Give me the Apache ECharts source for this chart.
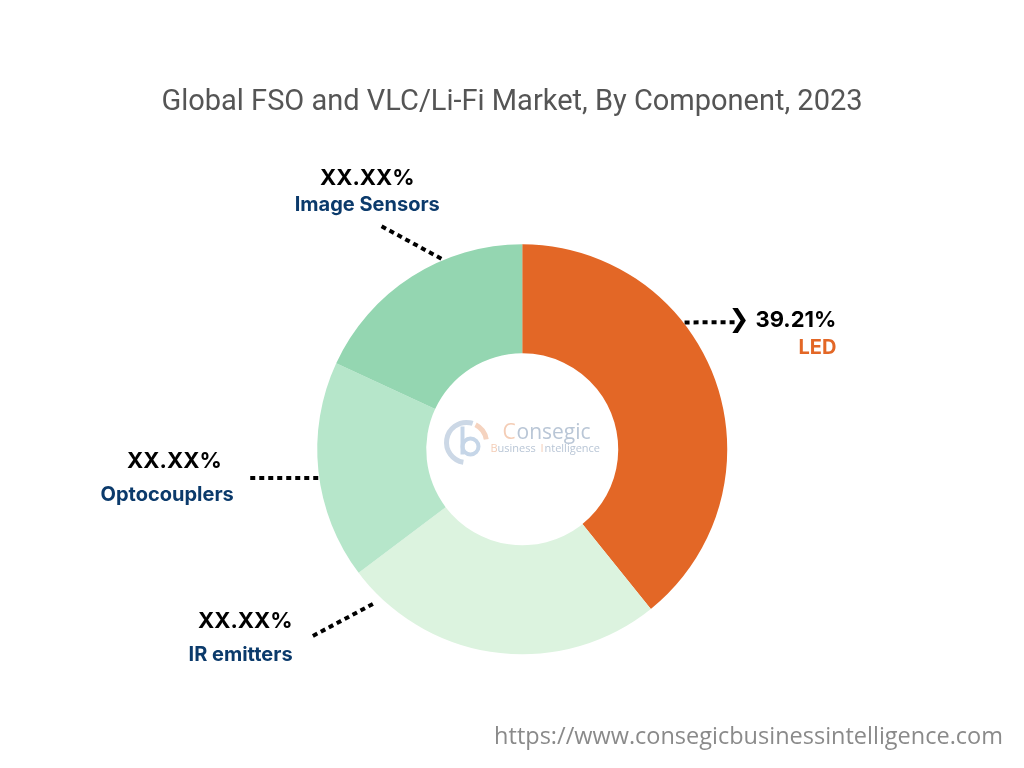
<!DOCTYPE html>
<html>
<head>
<meta charset="utf-8">
<title>Global FSO and VLC/Li-Fi Market, By Component, 2023</title>
<script src="https://cdn.jsdelivr.net/npm/echarts@6/dist/echarts.min.js"></script>
<style>
    html, body { margin: 0; padding: 0; background: #fff; }
    #main { width: 1024px; height: 768px; }
</style>
</head>
<body>
<div id="main"></div>
<script>
// slices, clockwise from 12 o'clock
var components = ['LED', 'IR emitters', 'Optocouplers', 'Image Sensors'];
var shares = [39.21, 25.5, 17.2, 18.1];
var shareLabels = ['39.21%', 'XX.XX%', 'XX.XX%', 'XX.XX%'];
var colors = ['#e36726', '#dcf3df', '#b6e6ca', '#94d6b1'];
var nameColors = ['#e36726', '#0b3a6b', '#0b3a6b', '#0b3a6b'];

// leader line: start/end as [angle clockwise from top, radius]
// label: side it sits on relative to the line end
var leaders = {
    'LED':           {from: [52, 206],  to: [59.3, 249],  align: 'right', dx: 100, dy: 12, gap: 27, vpad: 0},
    'IR emitters':   {from: [224, 215], to: [228.4, 283], align: 'right', dx: -18, dy: 1,  gap: 33, vpad: 0},
    'Optocouplers':  {from: [262, 206], to: [264, 275],   align: 'right', dx: -15, dy: 0,  gap: 33, vpad: 12},
    'Image Sensors': {from: [337, 207], to: [327.6, 265], align: 'center', dx: -13, dy: -34, gap: 27, vpad: 0}
};

var CENTER = ['51%', '58.5%'];
var RADIUS = [96, 205];

var myChart = echarts.init(document.getElementById('main'));

function polar(cx, cy, p) {
    var a = p[0] * Math.PI / 180;
    return [cx + p[1] * Math.sin(a), cy - p[1] * Math.cos(a)];
}

var richStyles = {
    arrow: {fontFamily: 'DejaVu Sans', fontWeight: 'bold', fontSize: 25, color: '#000', padding: [0, 6, 0, 0]}
};

var pieData = components.map(function (name, i) {
    var l = leaders[name];
    richStyles['v' + i] = {fontFamily: 'Inter', fontWeight: 'bold', fontSize: 22, color: '#000',
        lineHeight: l.gap, padding: [0, l.vpad, 0, 0]};
    richStyles['n' + i] = {fontFamily: 'Inter', fontWeight: 'bold', fontSize: 20, color: nameColors[i],
        lineHeight: l.gap};
    return {
        name: name,
        value: shares[i],
        itemStyle: {color: colors[i]},
        label: {
            formatter: (i === 0 ? '{arrow|❯}' : '') + '{v' + i + '|' + shareLabels[i] + '}\n{n' + i + '|' + name + '}',
            align: l.align
        }
    };
});

var option = {
    backgroundColor: '#fff',
    title: {
        text: 'Global FSO and VLC/Li-Fi Market, By Component, 2023',
        left: 'center',
        top: 83,
        textStyle: {fontFamily: 'Roboto', fontWeight: 'normal', fontSize: 29, color: '#555'}
    },
    graphic: [
        {
            type: 'text', right: 21, top: 725,
            style: {text: 'https://www.consegicbusinessintelligence.com', font: '23.5px "Open Sans"', fill: '#8a8a8a'}
        },
        {
            type: 'group', left: 444, top: 420,
            children: [
                {type: 'arc', shape: {cx: 24, cy: 28, r: 20, startAngle: Math.PI * 0.55, endAngle: Math.PI * 1.6},
                    style: {stroke: '#ccd8e6', lineWidth: 5, fill: null}},
                {type: 'arc', shape: {cx: 24, cy: 28, r: 20, startAngle: Math.PI * 1.65, endAngle: Math.PI * 1.95},
                    style: {stroke: '#f5d3bf', lineWidth: 5, fill: null}},
                {type: 'circle', shape: {cx: 28, cy: 32, r: 8}, style: {stroke: '#c6d6e8', lineWidth: 4, fill: null}},
                {type: 'line', shape: {x1: 20, y1: 12, x2: 20, y2: 40}, style: {stroke: '#c6d6e8', lineWidth: 4}},
                {type: 'text', x: 60, y: 8, style: {text: 'C', font: '21px "Open Sans"', fill: '#f4cdb6'}},
                {type: 'text', x: 74, y: 8, style: {text: 'onsegic', font: '21px "Open Sans"', fill: '#b9c6d6'}},
                {type: 'text', x: 48, y: 29, style: {text: 'B', font: '11px "Open Sans"', fill: '#f4cdb6'}},
                {type: 'text', x: 55, y: 29, style: {text: 'usiness ', font: '11px "Open Sans"', fill: '#b9c6d6'}},
                {type: 'text', x: 98, y: 29, style: {text: 'I', font: '11px "Open Sans"', fill: '#f4cdb6'}},
                {type: 'text', x: 102, y: 29, style: {text: 'ntelligence', font: '11px "Open Sans"', fill: '#b9c6d6'}}
            ]
        }
    ],
    series: [
        {
            type: 'pie',
            center: CENTER,
            radius: RADIUS,
            startAngle: 90,
            clockwise: true,
            avoidLabelOverlap: false,
            silent: true,
            data: pieData,
            label: {
                show: true,
                position: 'outside',
                rich: richStyles
            },
            labelLine: {
                show: true,
                length: 20,
                length2: 20,
                lineStyle: {color: '#000', width: 4, type: [5, 4], cap: 'butt'}
            },
            labelLayout: function (params) {
                var name = components[params.dataIndex];
                var l = leaders[name];
                var cx = myChart.getWidth() * parseFloat(CENTER[0]) / 100;
                var cy = myChart.getHeight() * parseFloat(CENTER[1]) / 100;
                var p0 = polar(cx, cy, l.from);
                var p1 = polar(cx, cy, l.to);
                return {
                    x: p1[0] + l.dx,
                    y: p1[1] + l.dy,
                    align: l.align,
                    verticalAlign: 'middle',
                    labelLinePoints: [p0, p1, p1]
                };
            }
        }
    ]
};

myChart.setOption(option);
</script>
</body>
</html>
